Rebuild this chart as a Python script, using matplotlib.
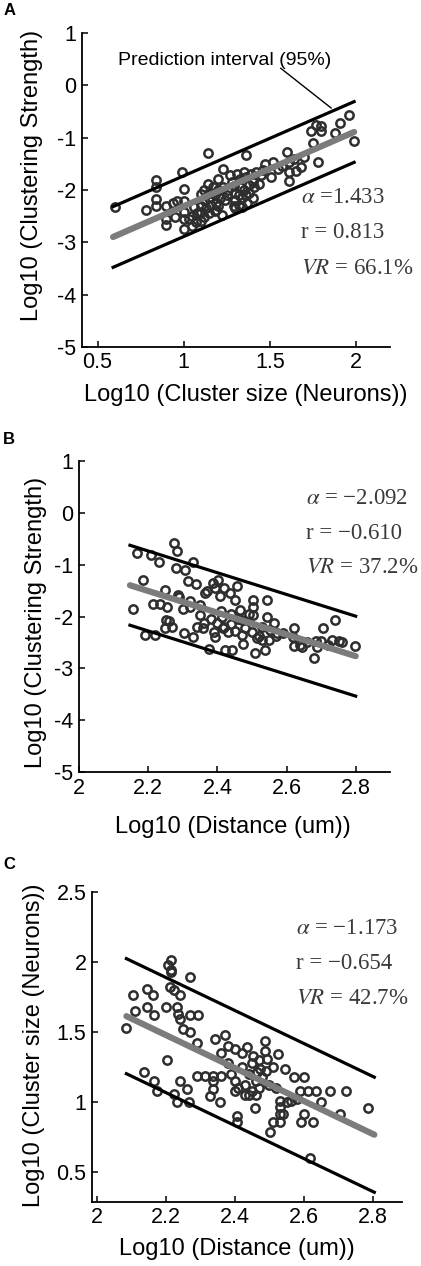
import matplotlib
matplotlib.use("Agg")
import matplotlib.pyplot as plt
import numpy as np

plt.rcParams['font.family'] = ['Liberation Sans', 'DejaVu Sans']
plt.rcParams['axes.unicode_minus'] = False
plt.rcParams['mathtext.fontset'] = 'stix'

# ---- panel A : cluster size vs clustering strength ----
a_x = [0.60, 0.78, 0.84, 0.84, 0.84, 0.84, 0.90, 0.90, 0.90, 0.94, 0.96, 0.99, 1.00, 1.00,
       1.00, 1.00, 1.00, 1.03, 1.05, 1.05, 1.07, 1.08, 1.10, 1.10, 1.10, 1.10, 1.12, 1.12,
       1.13, 1.14, 1.14, 1.15, 1.15, 1.15, 1.16, 1.17, 1.18, 1.18, 1.19, 1.20, 1.20, 1.21,
       1.22, 1.23, 1.23, 1.24, 1.25, 1.27, 1.28, 1.29, 1.30, 1.30, 1.30, 1.31, 1.32, 1.32,
       1.33, 1.33, 1.34, 1.35, 1.35, 1.36, 1.36, 1.37, 1.38, 1.38, 1.39, 1.40, 1.40, 1.42,
       1.44, 1.46, 1.47, 1.51, 1.52, 1.55, 1.60, 1.61, 1.61, 1.61, 1.65, 1.68, 1.74, 1.75,
       1.77, 1.78, 1.80, 1.80, 1.88, 1.91, 1.96, 1.99, 1.06, 1.12, 1.16, 1.19, 1.26, 1.29,
       1.34, 1.36, 1.41, 1.45, 1.57, 1.64, 1.70, 1.20, 0.95]
a_y = [-2.32, -2.38, -1.82, -1.95, -2.17, -2.30, -2.30, -2.56, -2.68, -2.25, -2.22, -1.65, -1.98, -2.21,
       -2.43, -2.56, -2.75, -2.55, -2.50, -2.69, -2.62, -2.45, -2.08, -2.30, -2.43, -2.59, -2.00, -2.20,
       -2.35, -1.30, -1.88, -2.05, -2.15, -2.45, -2.28, -1.95, -2.10, -2.40, -2.25, -2.00, -2.30, -2.15,
       -2.48, -1.60, -1.95, -2.20, -2.10, -1.72, -1.85, -1.92, -2.05, -2.20, -2.35, -1.70, -2.10, -2.28,
       -1.80, -1.95, -2.15, -1.65, -2.00, -1.34, -1.75, -2.25, -1.90, -2.05, -1.70, -2.15, -1.85, -1.65,
       -1.88, -1.62, -1.50, -1.75, -1.46, -1.60, -1.27, -1.46, -1.66, -1.83, -1.63, -1.56, -0.88, -1.11,
       -0.76, -1.46, -0.78, -0.88, -0.92, -0.72, -0.57, -1.07, -2.32, -2.52, -2.05, -2.38, -2.00, -2.30,
       -2.32, -2.10, -1.95, -1.72, -1.55, -1.40, -1.38, -1.80, -2.52]
a_slope, a_icpt, a_pi = 1.433, -3.745, 0.58
a_range = [0.59, 1.99]
a_stats = ['$\\alpha$ =1.433', 'r = 0.813', '$VR$ = 66.1%']

# ---- panel B : distance vs clustering strength ----
b_x = [2.155, 2.167, 2.184, 2.19, 2.208, 2.215, 2.22, 2.231, 2.233, 2.247, 2.25, 2.254, 2.247, 2.274,
       2.283, 2.279, 2.286, 2.304, 2.307, 2.315, 2.33, 2.338, 2.32, 2.33, 2.349, 2.359, 2.364, 2.376,
       2.388, 2.393, 2.393, 2.403, 2.407, 2.412, 2.417, 2.422, 2.436, 2.443, 2.451, 2.458, 2.464, 2.47,
       2.475, 2.504, 2.504, 2.504, 2.509, 2.514, 2.529, 2.538, 2.543, 2.543, 2.553, 2.563, 2.572, 2.621,
       2.621, 2.645, 2.679, 2.684, 2.706, 2.732, 2.74, 2.752, 2.761, 2.797, 2.689,
       2.38, 2.40, 2.42, 2.43, 2.44, 2.45, 2.46, 2.47, 2.48, 2.49, 2.50, 2.52, 2.39, 2.41, 2.44, 2.36,
       2.34, 2.53, 2.55, 2.57, 2.59, 2.62, 2.64, 2.66, 2.70, 2.72, 2.26, 2.27, 2.29, 2.30, 2.32, 2.35,
       2.37, 2.42]
b_y = [-1.86, -0.77, -1.29, -2.35, -0.81, -1.76, -2.35, -0.94, -1.76, -1.48, -2.06, -1.82, -2.23, -0.58,
       -0.74, -1.06, -1.58, -2.32, -1.10, -1.32, -0.94, -1.37, -1.81, -2.39, -1.97, -2.23, -1.55, -2.63,
       -1.35, -1.45, -2.39, -1.29, -1.61, -2.00, -2.23, -2.65, -1.55, -2.65, -1.68, -1.42, -1.87, -2.06,
       -2.52, -1.68, -1.81, -1.97, -2.71, -2.42, -2.45, -2.65, -1.68, -2.00, -2.26, -2.13, -2.32, -2.23,
       -2.57, -2.58, -2.79, -2.48, -2.23, -2.45, -2.06, -2.48, -2.50, -2.57, -2.59,
       -2.05, -2.12, -2.20, -2.30, -2.15, -2.28, -2.05, -2.35, -2.22, -1.95, -2.30, -2.38, -2.30, -1.90,
       -1.95, -2.12, -2.20, -2.20, -2.45, -2.38, -2.32, -2.40, -2.55, -2.50, -2.47, -2.55, -2.08, -2.20,
       -1.62, -1.85, -1.70, -1.78, -1.50, -1.45]
b_slope, b_icpt, b_pi = -2.092, 3.0946, 0.77
b_range = [2.147, 2.80]
b_stats = ['$\\alpha$ = \u22122.092', 'r = \u22120.610', '$VR$ = 37.2%']

# ---- panel C : distance vs cluster size ----
c_x = [2.085, 2.104, 2.111, 2.137, 2.145, 2.145, 2.162, 2.166, 2.166, 2.173, 2.20, 2.202, 2.207, 2.214,
       2.214, 2.215, 2.212, 2.222, 2.231, 2.236, 2.241, 2.241, 2.222, 2.231, 2.241, 2.26, 2.25, 2.27,
       2.27, 2.294, 2.27, 2.268, 2.289, 2.289, 2.313, 2.337, 2.361, 2.328, 2.337, 2.337, 2.342, 2.357,
       2.371, 2.407, 2.405, 2.434, 2.453, 2.458, 2.487, 2.487, 2.492, 2.501, 2.525, 2.53, 2.53, 2.53,
       2.53, 2.511, 2.545, 2.564, 2.573, 2.602, 2.588, 2.612, 2.636, 2.675, 2.723, 2.593, 2.602, 2.627,
       2.617, 2.651, 2.704, 2.788, 2.463, 2.473,
       2.36, 2.38, 2.39, 2.40, 2.41, 2.42, 2.42, 2.43, 2.44, 2.45, 2.45, 2.46, 2.47, 2.47, 2.48, 2.49,
       2.50, 2.51, 2.38, 2.40, 2.44, 2.52, 2.55, 2.54, 2.58, 2.40, 2.43, 2.46]
c_y = [1.529, 1.762, 1.648, 1.214, 1.805, 1.679, 1.762, 1.624, 1.155, 1.083, 1.679, 1.298, 1.981, 2.012,
       1.94, 1.93, 1.821, 1.798, 1.679, 1.631, 1.595, 1.762, 1.06, 1.00, 1.155, 1.095, 1.524, 1.893,
       1.619, 1.619, 1.50, 1.00, 1.424, 1.186, 1.186, 1.186, 1.186, 1.048, 1.155, 1.095, 1.452, 1.00,
       1.476, 0.905, 0.857, 1.393, 1.333, 0.957, 1.44, 1.369, 1.31, 0.786, 1.345, 1.012, 0.964, 0.917,
       0.857, 0.857, 1.238, 1.012, 1.179, 1.179, 1.083, 1.083, 1.083, 1.083, 1.083, 0.857, 0.917, 0.857,
       0.60, 1.00, 0.917, 0.957, 1.214, 1.238,
       1.35, 1.28, 1.20, 1.15, 1.10, 1.25, 1.35, 1.12, 1.20, 1.08, 1.28, 1.15, 1.10, 1.30, 1.18, 1.22,
       1.12, 1.25, 1.40, 1.38, 1.05, 1.10, 1.00, 0.92, 1.02, 1.08, 1.05, 1.05]
c_slope, c_icpt, c_pi = -1.173, 4.0593, 0.41
c_range = [2.085, 2.805]
c_stats = ['$\\alpha$ = \u22121.173', 'r = \u22120.654', '$VR$ = 42.7%']

fig = plt.figure(figsize=(4.21, 12.66), dpi=100)

panels = [
    dict(pos=[0.195, 0.726, 0.732, 0.248], x=a_x, y=a_y, slope=a_slope, icpt=a_icpt, pi=a_pi,
         rng=a_range, stats=a_stats, xlim=(0.41, 2.2), ylim=(-5, 1),
         xticks=[0.5, 1, 1.5, 2], xtl=['0.5', '1', '1.5', '2'],
         yticks=[-5, -4, -3, -2, -1, 0, 1], ytl=['-5', '-4', '-3', '-2', '-1', '0', '1'],
         xlabel='Log10 (Cluster size (Neurons))', ylabel='Log10 (Clustering Strength)',
         xlc=(0.53, -0.118), ylc=(-0.127, 0.545), stat_xy=(0.71, 0.475), letter='A',
         letter_y=0.9915),
    dict(pos=[0.188, 0.390, 0.739, 0.246], x=b_x, y=b_y, slope=b_slope, icpt=b_icpt, pi=b_pi,
         rng=b_range, stats=b_stats, xlim=(2.0, 2.9), ylim=(-5, 1),
         xticks=[2, 2.2, 2.4, 2.6, 2.8], xtl=['2', '2.2', '2.4', '2.6', '2.8'],
         yticks=[-5, -4, -3, -2, -1, 0, 1], ytl=['-5', '-4', '-3', '-2', '-1', '0', '1'],
         xlabel='Log10 (Distance (um))', ylabel='Log10 (Clustering Strength)',
         xlc=(0.495, -0.14), ylc=(-0.103, 0.482), stat_xy=(0.73, 0.88), letter='B',
         letter_y=0.653),
    dict(pos=[0.2185, 0.0506, 0.736, 0.245], x=c_x, y=c_y, slope=c_slope, icpt=c_icpt, pi=c_pi,
         rng=c_range, stats=c_stats, xlim=(1.985, 2.885), ylim=(0.29, 2.5),
         xticks=[2, 2.2, 2.4, 2.6, 2.8], xtl=['2', '2.2', '2.4', '2.6', '2.8'],
         yticks=[0.5, 1, 1.5, 2, 2.5], ytl=['0.5', '1', '1.5', '2', '2.5'],
         xlabel='Log10 (Distance (um))', ylabel='Log10 (Cluster size (Neurons))',
         xlc=(0.468, -0.115), ylc=(-0.152, 0.506), stat_xy=(0.66, 0.88), letter='C',
         letter_y=0.3175),
]

for p in panels:
    ax = fig.add_axes(p['pos'])
    ax.plot(p['x'], p['y'], 'o', mfc='none', mec='#2e2e2e', mew=1.8, ms=6.0, zorder=2)
    xs = np.array(p['rng'])
    fit = p['slope'] * xs + p['icpt']
    ax.plot(xs, fit, color='#7c7c7c', lw=4.5, solid_capstyle='round', zorder=3)
    ax.plot(xs, fit + p['pi'], color='black', lw=2.3, zorder=3)
    ax.plot(xs, fit - p['pi'], color='black', lw=2.3, zorder=3)

    ax.set_xlim(*p['xlim'])
    ax.set_ylim(*p['ylim'])
    ax.set_xticks(p['xticks'])
    ax.set_xticklabels(p['xtl'])
    ax.set_yticks(p['yticks'])
    ax.set_yticklabels(p['ytl'])
    ax.tick_params(direction='in', length=4, width=1.1, labelsize=15.5, pad=4)
    for s in ['top', 'right']:
        ax.spines[s].set_visible(False)
    for s in ['left', 'bottom']:
        ax.spines[s].set_linewidth(1.3)
    ax.set_xlabel(p['xlabel'], fontsize=17)
    ax.set_ylabel(p['ylabel'], fontsize=17)
    ax.xaxis.set_label_coords(*p['xlc'])
    ax.yaxis.set_label_coords(*p['ylc'])

    sx, sy = p['stat_xy']
    for i, s in enumerate(p['stats']):
        ax.text(sx, sy - i * 0.112, s, transform=ax.transAxes, fontsize=16.5,
                family='Liberation Serif', color='#3a3a3a', va='center', ha='left')

    fig.text(0.008, p['letter_y'], p['letter'], fontsize=12, fontweight='bold',
             va='center', ha='left')

    if p['letter'] == 'A':
        ax.text(0.62, 0.48, 'Prediction interval (95%)', fontsize=14, va='center', ha='left')
        ax.annotate('', xy=(1.87, -0.47), xytext=(1.55, 0.36),
                    arrowprops=dict(arrowstyle='-', lw=1.0, color='black'))

fig.savefig('out.png', dpi=100)
